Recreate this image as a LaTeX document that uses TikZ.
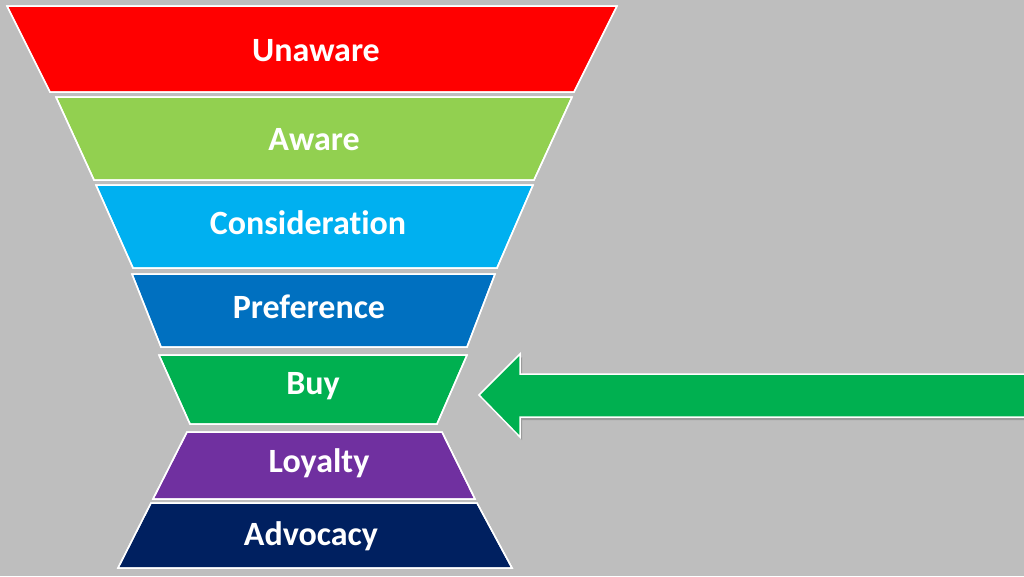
\documentclass[tikz,border=0pt]{standalone}
\usepackage{fontspec}
\setmainfont[Ligatures=NoCommon]{Carlito}
\begin{document}
\begin{tikzpicture}[x=1pt,y=-1pt,
  band/.style={draw=white, line width=1.5pt, line join=miter},
  lbl/.style={text=white, font=\fontsize{34}{38}\selectfont\bfseries, inner sep=0pt},
]
\definecolor{bg}{HTML}{BEBEBE}
\definecolor{cRed}{HTML}{FF0000}
\definecolor{cLime}{HTML}{92D050}
\definecolor{cCyan}{HTML}{00B0F0}
\definecolor{cBlue}{HTML}{0070C0}
\definecolor{cGreen}{HTML}{00B050}
\definecolor{cPurple}{HTML}{7030A0}
\definecolor{cNavy}{HTML}{002060}
\fill[bg] (0,0) rectangle (1024,576);
\useasboundingbox (0,0) rectangle (1024,576);

\fill[band, fill=cRed] (7,6) -- (617,6) -- (574,92) -- (50,92) -- cycle;
\fill[band, fill=cLime] (56,97) -- (572,97) -- (534,180) -- (94,180) -- cycle;
\fill[band, fill=cCyan] (96,185) -- (533,185) -- (497,268) -- (133,268) -- cycle;
\fill[band, fill=cBlue] (132,274) -- (495,274) -- (467,347) -- (161,347) -- cycle;
\fill[band, fill=cGreen] (159,355) -- (467,355) -- (437,424) -- (190,424) -- cycle;
\fill[band, fill=cPurple] (187,432) -- (442,432) -- (475,499) -- (153,499) -- cycle;
\fill[band, fill=cNavy] (151,503) -- (477,503) -- (512,568) -- (118,568) -- cycle;
\draw[band] (7,6) -- (617,6) -- (574,92) -- (50,92) -- cycle;
\draw[band] (56,97) -- (572,97) -- (534,180) -- (94,180) -- cycle;
\draw[band] (96,185) -- (533,185) -- (497,268) -- (133,268) -- cycle;
\draw[band] (132,274) -- (495,274) -- (467,347) -- (161,347) -- cycle;
\draw[band] (159,355) -- (467,355) -- (437,424) -- (190,424) -- cycle;
\draw[band] (187,432) -- (442,432) -- (475,499) -- (153,499) -- cycle;
\draw[band] (151,503) -- (477,503) -- (512,568) -- (118,568) -- cycle;

\node[lbl] (unaware) at (316,51) {Unaware};
\node[lbl] (aware) at (314,140) {Aware};
\node[lbl] (consideration) at (308,223) {Consideration};
\node[lbl] (preference) at (309,307) {Preference};
\node[lbl] (buy) at (313,386) {Buy};
\node[lbl] (loyalty) at (319,463) {Loyalty};
\node[lbl] (advocacy) at (311,536) {Advocacy};

% arrow shadow
\fill[black, opacity=0.18] (481,398) -- (522,357) -- (522,377) -- (1026,377) -- (1026,420) -- (522,420) -- (522,440) -- cycle;
\fill[band, fill=cGreen] (479,395) -- (520,354) -- (520,374) -- (1026,374) -- (1026,417) -- (520,417) -- (520,437) -- cycle;
\end{tikzpicture}
\end{document}
